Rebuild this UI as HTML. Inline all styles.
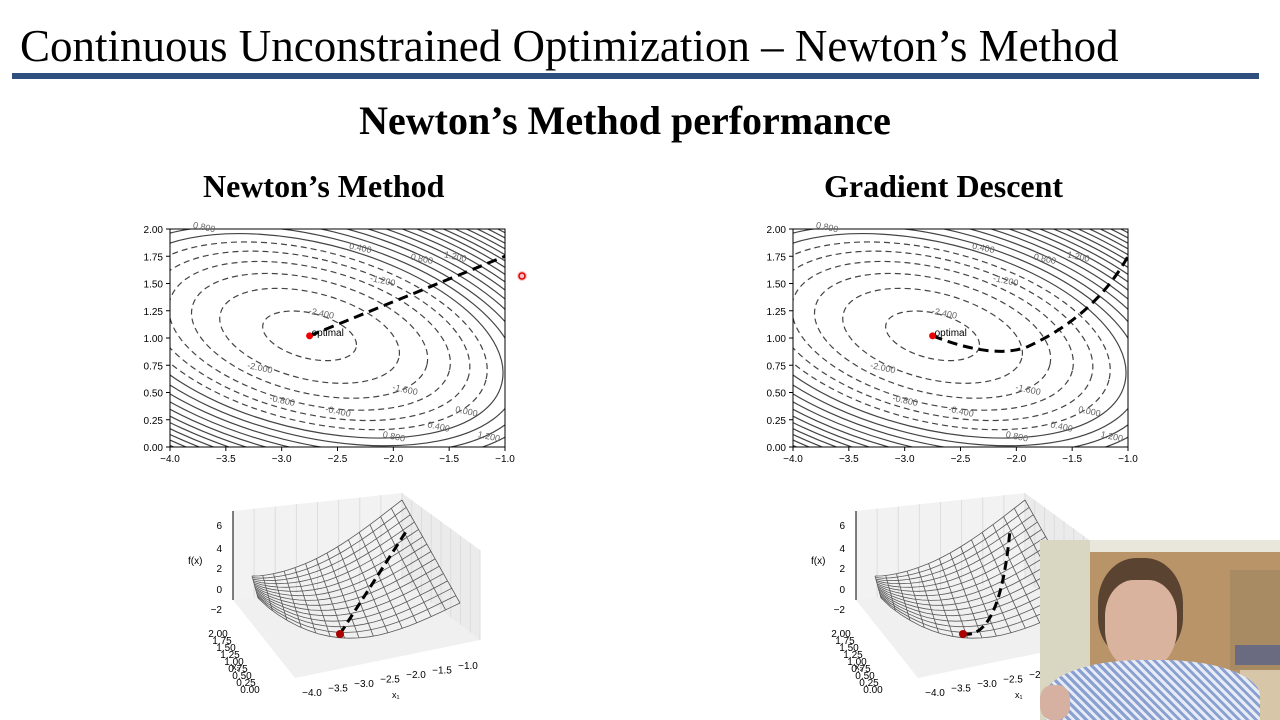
<!DOCTYPE html>
<html><head><meta charset="utf-8"><style>
body{margin:0;width:1280px;height:720px;background:#fff;overflow:hidden;position:relative;font-family:"Liberation Serif",serif}
.t{position:absolute;white-space:nowrap}
</style></head><body>
<div class="t" style="left:20px;top:20px;font-size:45px;color:#000">Continuous Unconstrained Optimization – Newton’s Method</div>
<div style="position:absolute;left:12px;top:73px;width:1247px;height:6px;background:#2f4f7f"></div>
<div class="t" style="left:0;width:1250px;text-align:center;top:97px;font-size:40px;font-weight:bold">Newton’s Method performance</div>
<div class="t" style="left:203px;top:168px;font-size:32px;font-weight:bold">Newton’s Method</div>
<div class="t" style="left:824px;top:168px;font-size:32px;font-weight:bold">Gradient Descent</div>
<svg id="s" width="1280" height="720" style="position:absolute;left:0;top:0" font-family="Liberation Sans, sans-serif"></svg>
<div style="position:absolute;left:1040px;top:540px;width:240px;height:180px;overflow:hidden;background:#b89468">
 <div style="position:absolute;left:0;top:0;width:50px;height:180px;background:#d9d6c2"></div>
 <div style="position:absolute;left:50px;top:0;width:190px;height:12px;background:#e9e7dc"></div>
 <div style="position:absolute;left:190px;top:30px;width:50px;height:100px;background:#a88a63"></div>
 <div style="position:absolute;left:195px;top:105px;width:45px;height:20px;background:#6a6a80"></div>
 <div style="position:absolute;left:200px;top:130px;width:40px;height:50px;background:#d7c6a8"></div>
 <div style="position:absolute;left:58px;top:18px;width:85px;height:100px;border-radius:45% 45% 40% 40%;background:#5a4330"></div>
 <div style="position:absolute;left:65px;top:40px;width:72px;height:90px;border-radius:40% 40% 45% 45%;background:#d9b39e"></div>
 <div style="position:absolute;left:5px;top:120px;width:215px;height:80px;border-radius:45% 45% 0 0;background:repeating-linear-gradient(45deg,#8aa0d0 0 3px,#e6ebf5 3px 6px)"></div>
 <div style="position:absolute;left:0;top:145px;width:30px;height:35px;border-radius:40%;background:#d6b0a0"></div>
</div>
<script>
const S=document.getElementById('s');let h='';
function plot(ox,gd){
 const L=170+ox,R=505+ox,T=229,B=447;
 const X=x=>L+(x+4)*(R-L)/3, Y=y=>B-y*(B-T)/2;
 const cx=X(-2.75),cy=Y(1.02);
 h+=`<clipPath id="c${ox}"><rect x="${L}" y="${T}" width="${R-L}" height="${B-T}"/></clipPath><g clip-path="url(#c${ox})" fill="none" stroke="#444" stroke-width="1.2">`;
 for(let i=0;i<26;i++){const lv=-2.4+0.4*i;const r=Math.sqrt(lv+2.55)*124;const d=lv<0?' stroke-dasharray="6,4"':'';
  h+=`<ellipse cx="${cx}" cy="${cy}" rx="${r}" ry="${r*0.47}" transform="rotate(14 ${cx} ${cy})"${d}/>`;}
 h+='</g>';
 h+=`<rect x="${L}" y="${T}" width="${R-L}" height="${B-T}" fill="none" stroke="#000" stroke-width="1"/>`;
 const labs=[['0.800',-3.7,1.99],['0.400',-2.3,1.8],['0.800',-1.75,1.7],['1.200',-1.45,1.72],['-1.200',-2.1,1.5],['-2.400',-2.65,1.2],['-2.000',-3.2,0.7],['-1.600',-1.9,0.5],['-0.800',-3.0,0.4],['-0.400',-2.5,0.3],['0.000',-1.35,0.3],['0.400',-1.6,0.16],['0.800',-2.0,0.07],['1.200',-1.15,0.07]];
 for(const[t,x,y]of labs)h+=`<text x="${X(x)}" y="${Y(y)}" font-size="9" fill="#666" text-anchor="middle" transform="rotate(12 ${X(x)} ${Y(y)})">${t}</text>`;
 for(let i=0;i<7;i++){const v=-4+0.5*i;h+=`<line x1="${X(v)}" y1="${B}" x2="${X(v)}" y2="${B+4}" stroke="#000"/><text x="${X(v)}" y="${B+15}" font-size="10" text-anchor="middle">${v.toFixed(1).replace('-','−')}</text>`;}
 for(let i=0;i<9;i++){const v=0.25*i;h+=`<line x1="${L-4}" y1="${Y(v)}" x2="${L}" y2="${Y(v)}" stroke="#000"/><text x="${L-7}" y="${Y(v)+4}" font-size="10" text-anchor="end">${v.toFixed(2)}</text>`;}
 if(!gd)h+=`<line x1="${cx}" y1="${cy}" x2="${R}" y2="${Y(1.75)}" stroke="#000" stroke-width="3" stroke-dasharray="10,6"/>`;
 else h+=`<path d="M${cx} ${cy} Q${X(-2.2)} ${Y(0.8)} ${X(-1.9)} ${Y(0.92)} Q${X(-1.3)} ${Y(1.2)} ${R} ${Y(1.75)}" fill="none" stroke="#000" stroke-width="3" stroke-dasharray="10,6"/>`;
 h+=`<circle cx="${cx}" cy="${cy}" r="3.5" fill="#e00"/><text x="${cx+2}" y="${cy}" font-size="10">optimal</text>`;
 const o=ox;
 h+=`<polygon points="${233+o},511 ${402+o},493 ${402+o},580 ${233+o},600" fill="#f2f2f2"/>`;
 h+=`<polygon points="${402+o},493 ${480+o},550 ${480+o},640 ${402+o},580" fill="#ebebeb"/>`;
 h+=`<polygon points="${233+o},600 ${402+o},580 ${480+o},640 ${295+o},678" fill="#f0f0f0"/>`;
 for(let i=0;i<=8;i++){const t=i/8;h+=`<line x1="${233+o+169*t}" y1="${511-18*t}" x2="${233+o+169*t}" y2="${600-20*t}" stroke="#ddd"/><line x1="${402+o+78*t}" y1="${493+57*t}" x2="${402+o+78*t}" y2="${580+60*t}" stroke="#ddd"/>`;}
 const P=(u,v)=>{const A=[252+o,576],Bk=[402+o,500],C=[460+o,603],D=[258+o,598];
  const x=(1-u)*(1-v)*D[0]+u*(1-v)*C[0]+u*v*Bk[0]+(1-u)*v*A[0];
  let y=(1-u)*(1-v)*D[1]+u*(1-v)*C[1]+u*v*Bk[1]+(1-u)*v*A[1];
  y+=38*Math.sin(Math.PI*Math.pow(u,0.85))*(1-v*0.6);return[x,y];};
 h+='<g fill="none" stroke="#333" stroke-width="0.8" opacity="0.8">';
 for(let i=0;i<=14;i++){let a='',b='';for(let j=0;j<=20;j++){const p=P(i/14,j/20),q=P(j/20,i/14);a+=(j?'L':'M')+p[0].toFixed(1)+' '+p[1].toFixed(1);b+=(j?'L':'M')+q[0].toFixed(1)+' '+q[1].toFixed(1);}h+=`<path d="${a}"/><path d="${b}"/>`;}
 h+='</g>';
 const m=[340+o,634];
 if(!gd)h+=`<line x1="${m[0]}" y1="${m[1]}" x2="${407+o}" y2="530" stroke="#000" stroke-width="3" stroke-dasharray="9,5"/>`;
 else h+=`<path d="M${m[0]} ${m[1]} Q1000 640 1010 530" fill="none" stroke="#000" stroke-width="3" stroke-dasharray="9,5"/>`;
 h+=`<circle cx="${m[0]}" cy="${m[1]}" r="4" fill="#a00"/>`;
 h+=`<line x1="${233+o}" y1="511" x2="${233+o}" y2="600" stroke="#000"/>`;
 [['6',525],['4',548],['2',568],['0',589],['−2',609]].forEach(([t,y])=>{h+=`<text x="${222+o}" y="${y+4}" font-size="10" text-anchor="end">${t}</text>`;});
 h+=`<text x="${188+o}" y="564" font-size="10">f(x)</text>`;
 ['2.00','1.75','1.50','1.25','1.00','0.75','0.50','0.25','0.00'].forEach((t,i)=>{h+=`<text x="${218+o+i*4}" y="${637+i*7}" font-size="10" text-anchor="middle">${t}</text>`;});
 ['−4.0','−3.5','−3.0','−2.5','−2.0','−1.5','−1.0'].forEach((t,i)=>{h+=`<text x="${312+o+i*26}" y="${696-i*4.5}" font-size="10" text-anchor="middle">${t}</text>`;});
 h+=`<text x="${392+o}" y="698" font-size="9">x₁</text><text x="${232+o}" y="670" font-size="9">x₂</text>`;
}
plot(0,false);plot(623,true);
h+=`<circle cx="522" cy="276" r="5" fill="#f88" opacity="0.5"/><circle cx="522" cy="276" r="3" fill="none" stroke="#d00" stroke-width="1.5"/>`;
S.innerHTML=h;
</script>
</body></html>
